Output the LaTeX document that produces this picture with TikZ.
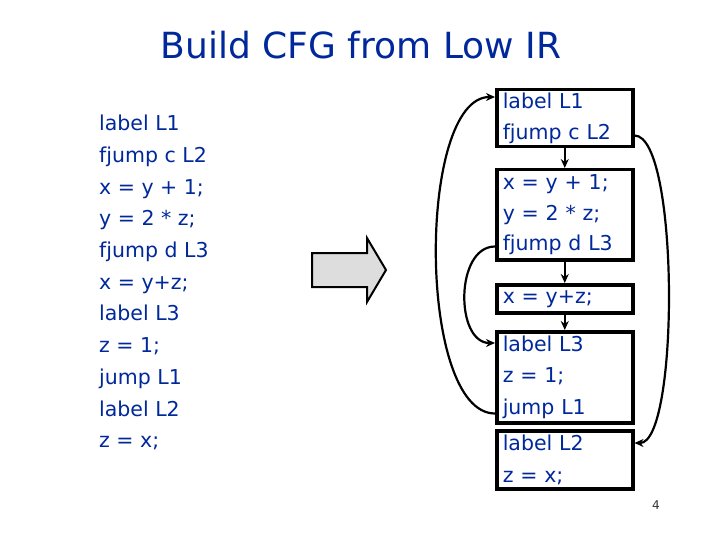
\documentclass[tikz,border=0pt]{standalone}
\usepackage{fontspec}
\setmainfont{DejaVu Sans}
\usetikzlibrary{arrows.meta}
\definecolor{slideblue}{RGB}{0,40,155}
\definecolor{arrowgray}{RGB}{221,221,221}

\begin{document}
\begin{tikzpicture}[x=1pt,y=-1pt,
    >={Stealth[length=9pt,width=8pt]},
    code/.style={font=\fontsize{20.5}{31.7}\selectfont,text=slideblue,align=left},
    block/.style={code,draw,line width=3.5pt,anchor=north west,inner xsep=6pt,inner ysep=0pt,
        minimum width=136pt,text width=124pt},
    flow/.style={->,line width=2.2pt}]
    \useasboundingbox (0,0) rectangle (720,540);
    % title
    \node[anchor=base,font=\fontsize{36}{43}\selectfont,text=slideblue] (title) at (361,59)
        {Build CFG from Low IR};
    % low IR listing
    \node[code,anchor=north west,inner sep=0pt] (listing) at (99,115)
        {label L1\\fjump c L2\\x = y + 1;\\y = 2 * z;\\fjump d L3\\x = y+z;\\label L3\\z = 1;\\jump L1\\label L2\\z = x;};
    % big arrow
    \draw[line width=2pt,fill=arrowgray] (312,253) -- (367,253) -- (367,238) -- (386,270)
        -- (367,302) -- (367,287) -- (312,287) -- cycle;
    % basic blocks
    \node[block,minimum height=57pt] (b1) at (495,88) {label L1\\fjump c L2};
    \node[block,minimum height=90pt,font=\fontsize{20.5}{30.5}\selectfont] (b2) at (495,168)
        {x = y + 1;\\y = 2 * z;\\fjump d L3};
    \node[block,minimum height=28pt] (b3) at (495,283) {x = y+z;};
    \node[block,minimum height=91pt] (b4) at (495,330) {label L3\\z = 1;\\jump L1};
    \node[block,minimum height=58pt] (b5) at (495,429) {label L2\\z = x;};
    % edges
    \draw[flow] (b1.south) -- (b2.north);
    \draw[flow] (b2.south) -- (b3.north);
    \draw[flow] (b3.south) -- (b4.north);
    \draw[flow] ([yshift=11pt]b4.south west) .. controls +(-78,0) and +(-78,0) .. ([yshift=-9pt]b1.north west);
    \draw[flow] ([yshift=15pt]b2.south west) .. controls +(-40,0) and +(-40,0) .. ([yshift=-13pt]b4.north west);
    \draw[flow] ([yshift=13pt]b1.south east) .. controls +(45,0) and +(45,0) .. ([yshift=-14pt]b5.north east);
    % page number
    \node[font=\fontsize{12}{14}\selectfont,text=black!80] (pagenum) at (656,505) {4};
\end{tikzpicture}
\end{document}
